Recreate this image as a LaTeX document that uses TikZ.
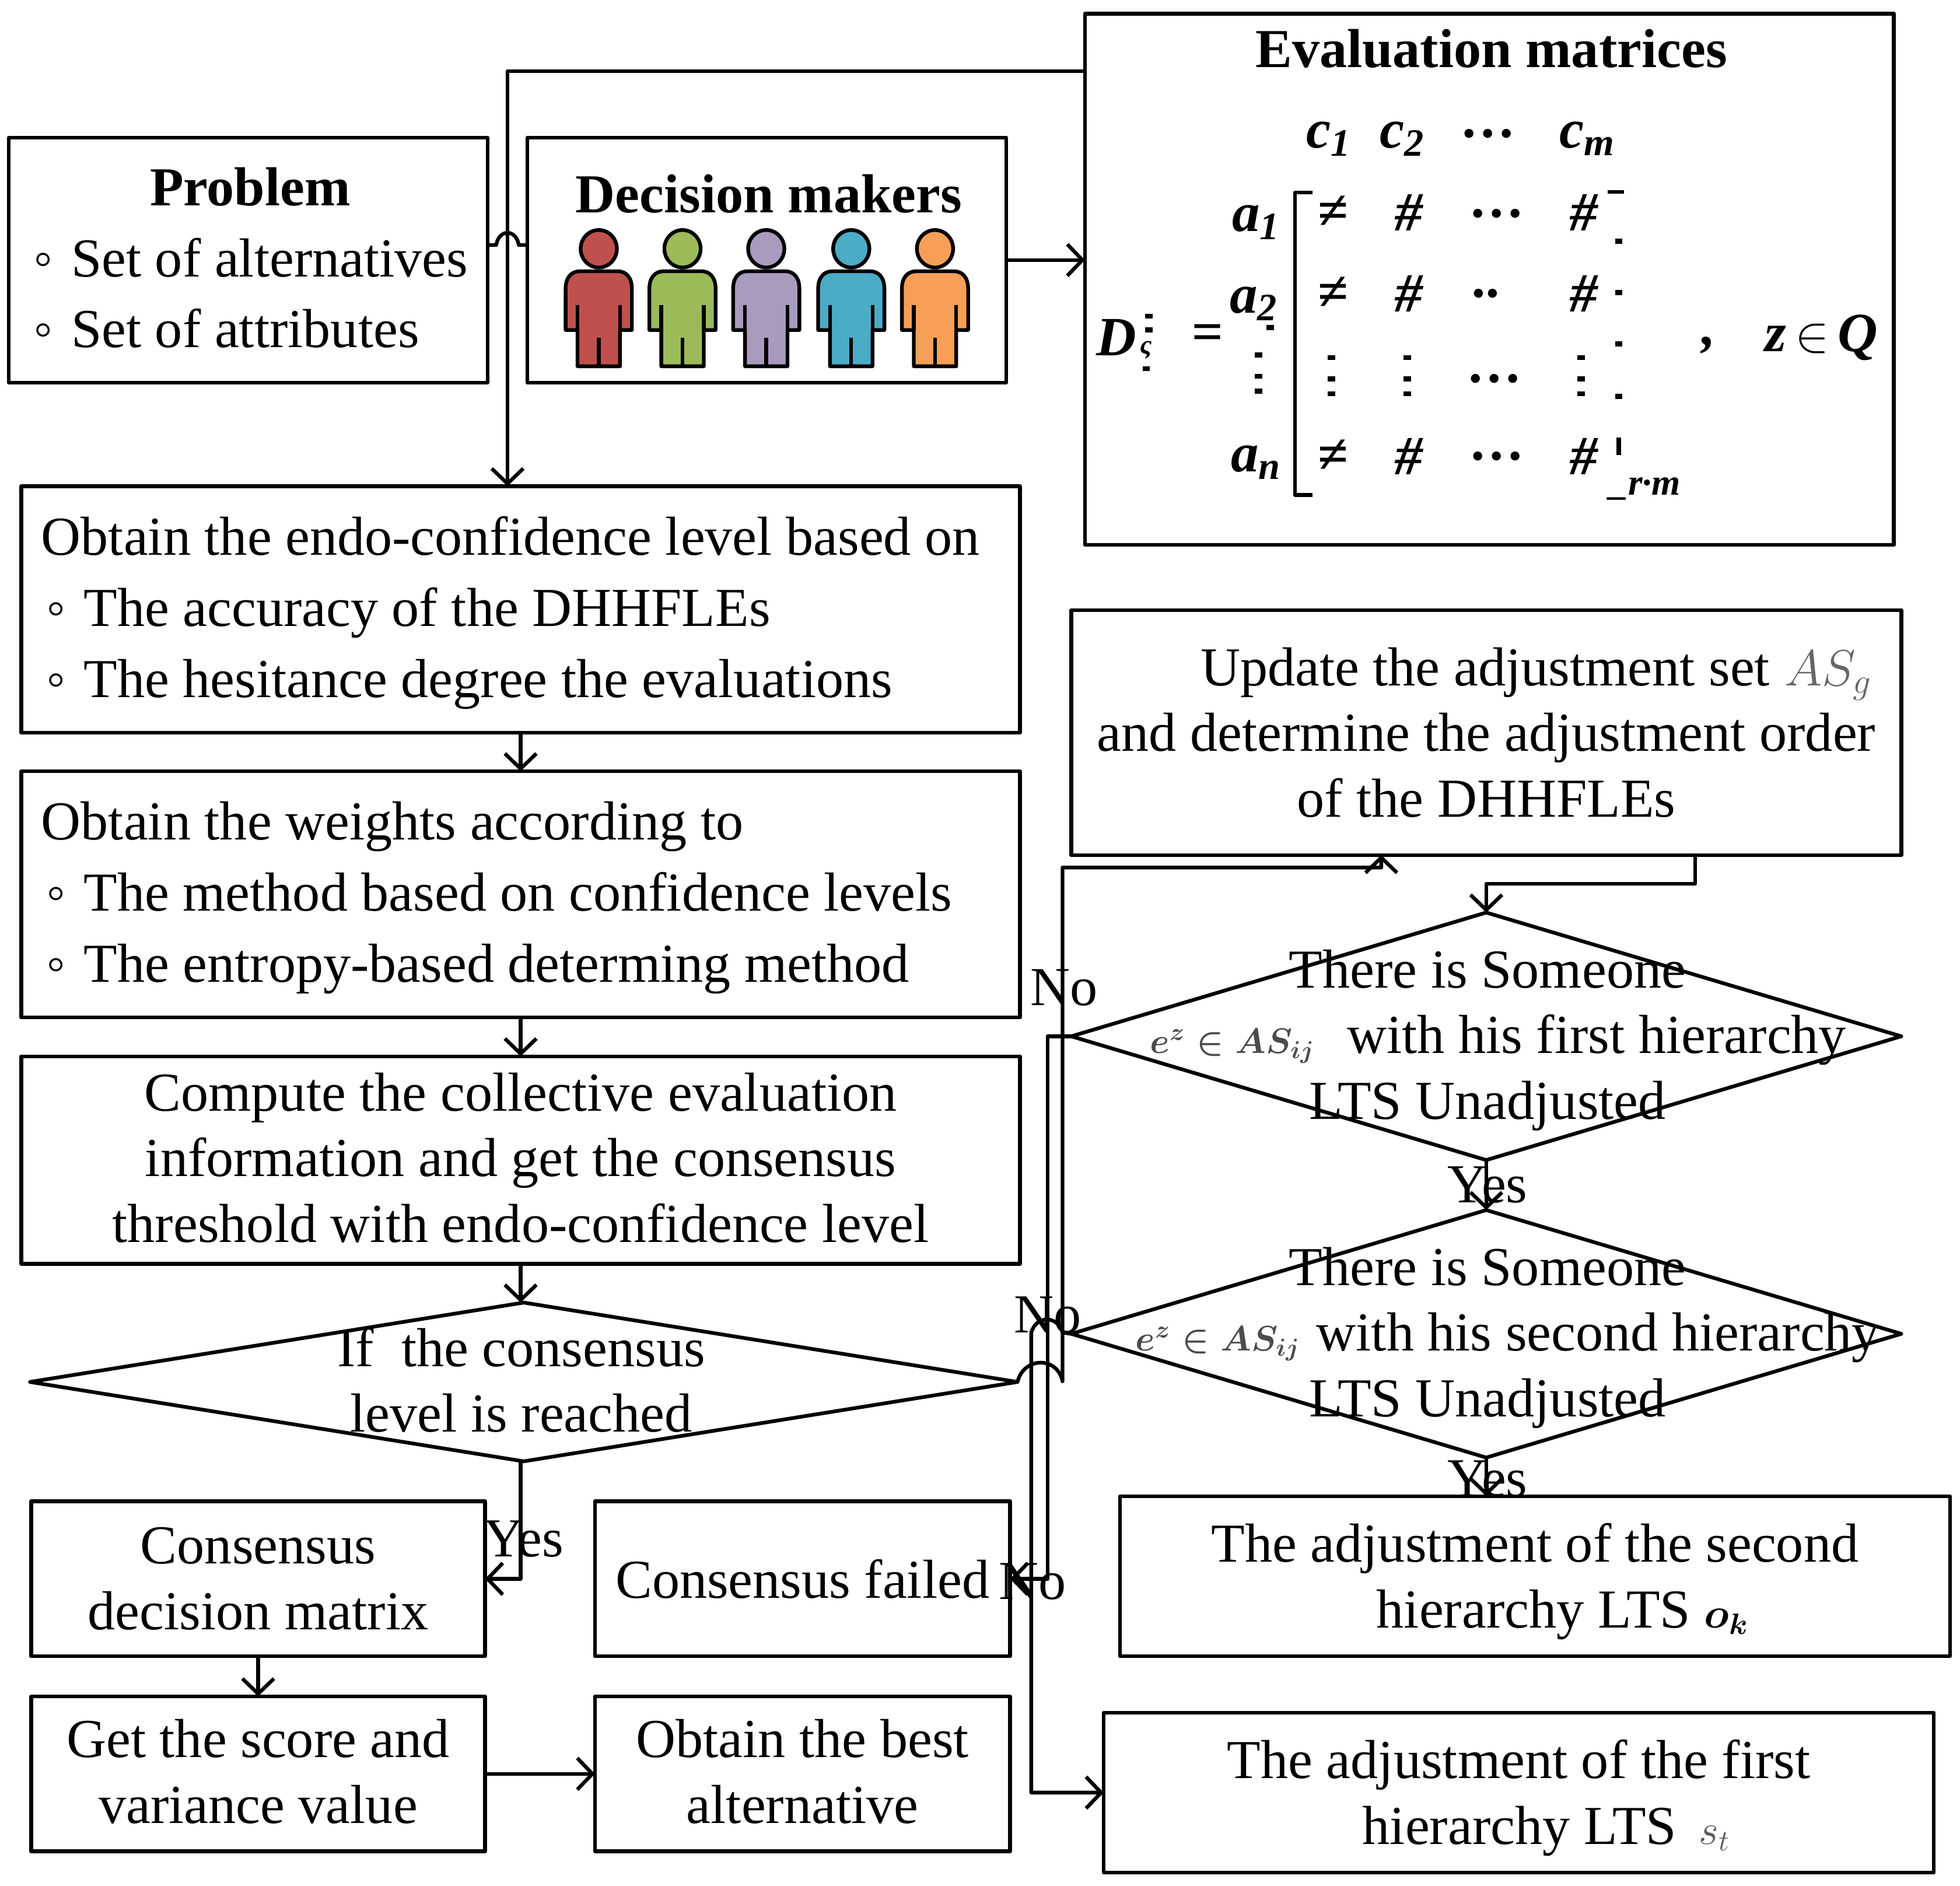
\documentclass[tikz,border=0pt]{standalone}
\usepackage{amsmath}
\usepackage{fontspec}
\setmainfont{Liberation Serif}
\usetikzlibrary{arrows.meta,shapes.geometric}

\newlength{\ux}
\setlength{\ux}{0.0214286cm}
\newcommand{\bodyfont}{\fontsize{26.8}{32}\selectfont}
\newcommand{\listfont}{\fontsize{26.8}{34.7}\selectfont}
\newcommand{\matfont}{\bfseries\itshape\fontsize{27}{27}\selectfont}
\newcommand{\inlfont}{\fontsize{17.5}{17.5}\selectfont}
\newcommand{\ltsfont}{\fontsize{20.5}{20.5}\selectfont}
\newcommand{\itm}{\hspace*{20\ux}\makebox[30\ux][l]{◦}}
\newcommand{\tallrow}{\rule{0pt}{22pt}}
\newcommand{\deeprow}{\rule[-2.5pt]{0pt}{0pt}}

\definecolor{redman}{HTML}{C0504D}
\definecolor{greenman}{HTML}{9BBB59}
\definecolor{violetman}{HTML}{A99BBD}
\definecolor{blueman}{HTML}{4BACC6}
\definecolor{orangeman}{HTML}{F79F57}

\tikzset{
  box/.style={draw, line width=1.8pt, line join=round, inner sep=0pt, outer sep=0pt, align=center, font=\bodyfont},
  listbox/.style={box, align=flush left, font=\listfont},
  dec/.style={draw, line width=1.8pt, line join=round, diamond, inner sep=0pt, outer sep=0pt},
  txt/.style={inner sep=0pt, align=center, font=\bodyfont},
  mat/.style={inner sep=0pt, font=\matfont},
  con/.style={line width=1.8pt, line join=round},
  arr/.style={con, -{Straight Barb[length=0.26cm,width=0.54cm]}},
  speck/.style={fill=black, draw=none}
}

\begin{document}
\begin{tikzpicture}[x=\ux, y=-\ux]
\useasboundingbox (0,0) rectangle (1568,1508.7);

% top row
\node[listbox, text width=383\ux, minimum height=196\ux] (problem) at (198.5,208)
  {\hspace*{113\ux}\textbf{Problem}\\ \itm Set of alternatives\\ \itm Set of attributes\deeprow};
\node[box, minimum width=383\ux, minimum height=196\ux] (decision) at (613.5,208) {};
\node[txt] (dectitle) at (615,155) {\textbf{Decision makers}};
\node[box, minimum width=647\ux, minimum height=425\ux] (eval) at (1191.5,223.5) {};
\node[txt] (evaltitle) at (1193,39) {\textbf{Evaluation matrices}};

% people
\foreach \px/\pc in {479/redman, 546/greenman, 613/violetman, 681/blueman, 748/orangeman}
{
\begin{scope}[shift={(\px,0)}, con, fill=\pc]
\filldraw (0,199) ellipse [x radius=14.5, y radius=15];
\filldraw (-26.5,264) -- (-26.5,231) .. controls (-26.5,222) and (-22,217) .. (-15,217)
  -- (15,217) .. controls (22,217) and (26.5,222) .. (26.5,231) -- (26.5,264) -- (17,264)
  -- (17,293) -- (-17,293) -- (-17,264) -- cycle;
\draw (-17,244) -- (-17,264);
\draw (17,244) -- (17,264);
\draw (0,270) -- (0,293);
\end{scope}
}

% matrix
\node[mat] (col1) at (1063,111) {c\textsubscript{1}};
\node[mat] (col2) at (1122,111) {c\textsubscript{2}};
\node[mat] (cold) at (1192,107) {\ldots};
\node[mat] (colm) at (1270,111) {c\textsubscript{m}};
\node[mat] (row1) at (1005,178) {a\textsubscript{1}};
\node[mat] (row2) at (1003,243) {a\textsubscript{2}};
\node[mat] (rown) at (1005,370) {a\textsubscript{n}};
\foreach \ry/\rn in {170/a, 235/b, 365/c}
{
\node[mat] (e\rn1) at (1066,\ry) {≠};
\node[mat] (e\rn2) at (1127,\ry) {\#};
\node[mat] (e\rn4) at (1267,\ry) {\#};
}
\node[mat] (ea3) at (1199,171) {\ldots};
\node[mat] (eb3) at (1190,235) {..};
\node[mat] (ed3) at (1197,303) {\ldots};
\node[mat] (ec3) at (1199,365) {\ldots};
\draw[con] (1050,154) -- (1036,154) -- (1036,396) -- (1050,396);
\node[mat] (matD) at (893,270) {D};
\node[mat, font=\matfont\fontsize{13}{13}\selectfont] (matDs) at (917,280) {ς};
\node[mat] (mateq) at (966,270) {=};
\node[mat] (matc) at (1367,276) {,};
\node[mat] (matz) at (1457,270) {z$\,\in\,$Q};
\node[mat, font=\matfont\fontsize{18}{18}\selectfont] (matsub) at (1316,391) {\_r·m};
\foreach \sx/\sy in {919/253, 919/264, 917/295, 1295/193, 1295/234, 1295/275, 1295/317, 1016/262,
  1007/284, 1007/301, 1007/313, 1065/286, 1065/303, 1065/315, 1126/286, 1126/303, 1126/315,
  1265/286, 1265/303, 1265/315}
\fill[speck] (\sx-3,\sy-2) rectangle (\sx+3,\sy+2);
\fill[speck] (1286,152) rectangle (1299,155);
\fill[speck] (1293,350) rectangle (1297,364);

% left column
\node[listbox, text width=799\ux, minimum height=197\ux] (endo) at (416.5,487.5)
  {\tallrow\hspace*{16\ux}Obtain the endo-confidence level based on\\ \itm The accuracy of the DHHFLEs\\ \itm The hesitance degree the evaluations};
\node[listbox, text width=799\ux, minimum height=197\ux] (weights) at (416.5,715.5)
  {\tallrow\hspace*{16\ux}Obtain the weights according to\\ \itm The method based on confidence levels\\ \itm The entropy-based determing method};
\node[box, minimum width=799\ux, minimum height=166\ux] (compute) at (416.5,928)
  {Compute the collective evaluation\\ information and get the consensus\\ threshold with endo-confidence level\deeprow};
\node[dec, minimum width=790\ux, minimum height=127\ux] (cons) at (419,1105.5) {};
\node[txt] (constxt) at (417,1104) {If\ \ the consensus\\ level is reached};
\node[box, minimum width=363\ux, minimum height=124\ux] (matrix) at (206.5,1263) {Consensus\\ decision matrix};
\node[box, minimum width=332\ux, minimum height=124\ux] (failed) at (642,1263) {Consensus failed};
\node[box, minimum width=363\ux, minimum height=124\ux] (score) at (206.5,1419) {Get the score and\\ variance value\deeprow};
\node[box, minimum width=332\ux, minimum height=124\ux] (best) at (642,1419) {Obtain the best\\ alternative\deeprow};

% right column
\node[box, minimum width=664\ux, minimum height=196\ux] (update) at (1189,586)
  {\hspace*{80\ux}Update the adjustment set\hspace{12\ux}{\color{black!60}$AS_g$}\\ and determine the adjustment order\\ of the DHHFLEs};
\node[dec, minimum width=664\ux, minimum height=198\ux] (dia1) at (1189,829) {};
\node[txt] (dia1txt) at (1190,832)
  {There is Someone\\ \hspace*{17\ux}{\inlfont\color{black!70}$\boldsymbol{e^z\in AS_{ij}}$}\hspace{26\ux}with his first hierarchy\\ LTS Unadjusted};
\node[dec, minimum width=664\ux, minimum height=198\ux] (dia2) at (1189,1067) {};
\node[txt] (dia2txt) at (1190,1070)
  {There is Someone\\ \hspace*{32\ux}{\inlfont\color{black!70}$\boldsymbol{e^z\in AS_{ij}}$}\hspace{13\ux}with his second hierarchy\\ LTS Unadjusted};
\node[box, minimum width=664\ux, minimum height=128\ux] (second) at (1228,1261)
  {\rule{0pt}{24pt}The adjustment of the second\\ \hspace*{44\ux}hierarchy LTS {\ltsfont$\boldsymbol{o_k}$}};
\node[box, minimum width=664\ux, minimum height=128\ux] (first) at (1215,1434)
  {\rule{0pt}{24pt}The adjustment of the first\\ \hspace*{44\ux}hierarchy LTS\hspace{18\ux}{\ltsfont\color{black!65}$s_t$}};

% labels
\node[txt] (no1) at (851,790) {No};
\node[txt] (no2) at (838,1052) {No};
\node[txt] (no3) at (826,1265) {No};
\node[txt] (yes1) at (419,1231) {Yes};
\node[txt] (yes2) at (1190,948) {Yes};
\node[txt] (yes3) at (1190,1183) {Yes};

% way points
\coordinate (hopl) at (397,196);
\coordinate (hopr) at (415,196);
\coordinate (evalout) at (868,57);
\coordinate (endoin) at (406,389);
\coordinate (updout) at (1356,707);
\coordinate (updin) at (1105,684);
\coordinate (loopup) at (850,694);
\coordinate (consr) at (850,1105);
\coordinate (leftb) at (838,829);
\coordinate (hopa) at (850,1066);
\coordinate (hopb) at (825,1066);
\coordinate (lowb) at (825,1434);

% connectors
\draw[arr] (evalout) -| (endoin);
\draw[con] (problem.east |- hopl) -- (hopl) .. controls (399,183) and (413,183) .. (hopr) -- (decision.west |- hopr);
\draw[arr] (decision.east) -- (eval.west |- decision.east);
\draw[arr] (endo.south) -- (weights.north);
\draw[arr] (weights.south) -- (compute.north);
\draw[arr] (compute.south) -- (compute.south |- cons.north);
\draw[arr] (compute.south |- cons.south) |- (matrix.east);
\draw[arr] (matrix.south) -- (score.north);
\draw[arr] (score.east) -- (best.west);
\draw[arr] (update.south -| updout) -- (updout) -| (dia1.north);
\draw[arr] (dia1.south) -- (dia2.north);
\draw[arr] (dia2.south) -- (dia2.south |- second.north);
\draw[arr] (cons.east) .. controls (819,1085) and (846,1085) .. (consr) |- (loopup) -| (updin);
\draw[arr] (dia1.west) -| (leftb |- failed.east) -- (failed.east);
\draw[arr] (dia2.west) -- (hopa) .. controls (846,1052) and (829,1052) .. (hopb) -- (lowb) -- (first.west);
\end{tikzpicture}
\end{document}
